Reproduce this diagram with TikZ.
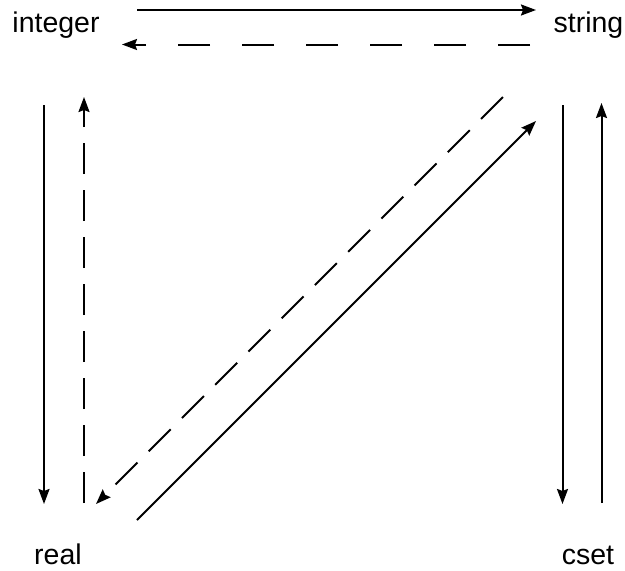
\documentclass[tikz,border=0pt]{standalone}
\usepackage{fontspec}
\setmainfont{Liberation Sans}
\usetikzlibrary{arrows.meta}
\begin{document}
\begin{tikzpicture}[x=1pt,y=-1pt,
  lbl/.style={inner sep=0pt,anchor=base,font=\fontsize{28.5}{34}\selectfont},
  conn/.style={line width=2pt,-{Stealth[length=15pt,width=11pt,inset=2pt]}},
  dashh/.style={dash pattern=on 32pt off 32pt},
  dashd/.style={dash pattern=on 31pt off 16pt}]
\useasboundingbox (0,0) rectangle (625,571);
\node[lbl] (integer) at (56,32) {integer};
\node[lbl] (string) at (588.5,32) {string};
\node[lbl] (real) at (58,564.5) {real};
\node[lbl] (cset) at (588,564.5) {cset};
% endpoints
\coordinate (t1) at (137,10);   \coordinate (t2) at (536,10);
\coordinate (d1) at (530,44.5); \coordinate (d2) at (122,44.5);
\coordinate (l1) at (44,105);   \coordinate (l2) at (44,504);
\coordinate (v1) at (84,503);   \coordinate (v2) at (84,97);
\coordinate (g1) at (503,97);   \coordinate (g2) at (96,504);
\coordinate (s1) at (137,520);  \coordinate (s2) at (536,121);
\coordinate (r1) at (562.5,105); \coordinate (r2) at (562.5,504);
\coordinate (u1) at (601.5,503); \coordinate (u2) at (601.5,103);
\draw[conn] (t1) -- (t2);
\draw[conn,dashh] (d1) -- (d2);
\draw[conn] (l1) -- (l2);
\draw[conn,dashd] (v1) -- (v2);
\draw[conn,dashd] (g1) -- (g2);
\draw[conn] (s1) -- (s2);
\draw[conn] (r1) -- (r2);
\draw[conn] (u1) -- (u2);
\end{tikzpicture}
\end{document}
